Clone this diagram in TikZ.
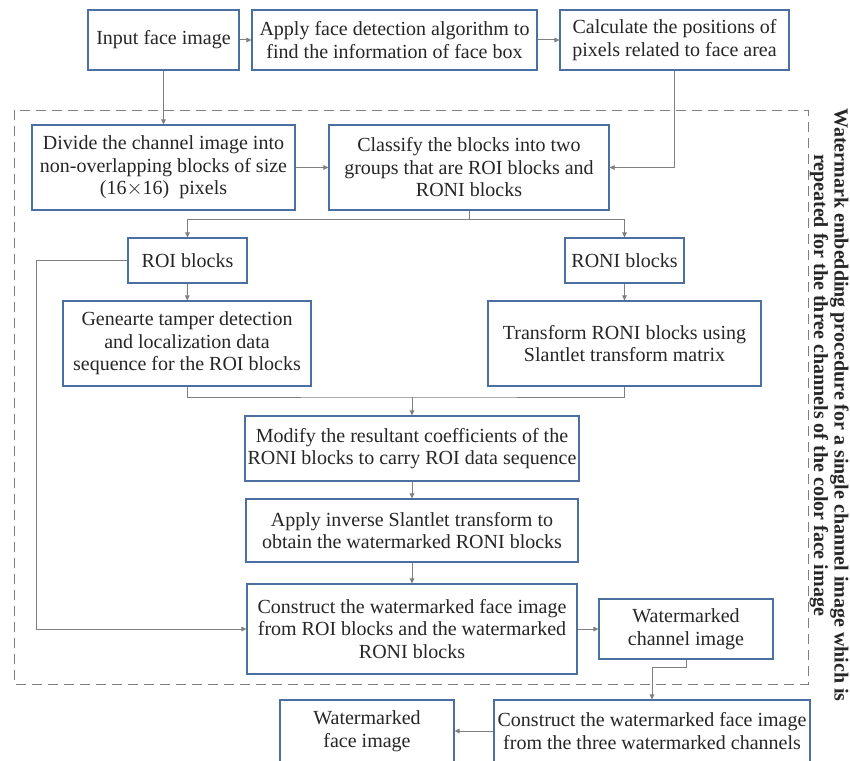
\documentclass[tikz,border=0pt]{standalone}
\usepackage{fontspec}
\setmainfont{Liberation Serif}
\usetikzlibrary{positioning,arrows.meta}

\definecolor{boxblue}{HTML}{4A6FA0}
\definecolor{linegray}{HTML}{7F7F7F}
\definecolor{txt}{HTML}{262626}

\tikzset{
  stepbox/.style={draw=boxblue, line width=1.1pt, fill=white, text=txt, align=center,
    inner sep=2pt, font=\fontsize{20}{22.5}\selectfont},
  sidetext/.style={rotate=-90, text=txt, inner sep=0pt, font=\bfseries\fontsize{20}{21}\selectfont},
  arr/.style={draw=linegray, line width=1pt, -{Triangle[length=5pt,width=4.5pt]}},
  link/.style={draw=linegray, line width=1pt}
}

\begin{document}
\begin{tikzpicture}[x=1pt,y=1pt,yscale=-1,xscale=1]
\useasboundingbox (0,0) rectangle (850,760);

% Repeated-channel frame
\draw [linegray, line width=1pt, dash pattern=on 10pt off 6pt] (14,110) rectangle (808,684);
\node [sidetext] (framelabel) at (839.5,405) {Watermark embedding procedure for a single channel image which is};
\node [sidetext] (framelabelb) at (819,385) {repeated for the three channels of the color face image};

% Top row
\node [stepbox, minimum width=151pt, minimum height=60pt] (input) at (163.5,40) {Input face image};
\node [stepbox, minimum width=285pt, minimum height=60pt] (detect) at (394.5,40) {Apply face detection algorithm to\\ find the information of face box};
\node [stepbox, minimum width=229pt, minimum height=60pt] (calc) at (674.5,40) {Calculate the positions of\\ pixels related to face area};

% Blocks
\node [stepbox, minimum width=263pt, minimum height=85pt] (divide) at (163.5,167.5) {Divide the channel image into\\ non-overlapping blocks of size\\ (16$\times$16)\ \ pixels};
\node [stepbox, minimum width=280pt, minimum height=85pt] (classify) at (469,167.5) {Classify the blocks into two\\ groups that are ROI blocks and\\ RONI blocks};
\node [stepbox, minimum width=119pt, minimum height=45pt] (roi) at (187.5,260.5) {ROI blocks};
\node [stepbox, minimum width=119pt, minimum height=45pt] (roni) at (624.5,260.5) {RONI blocks};
\node [stepbox, minimum width=248pt, minimum height=85pt] (gen) at (187,343.5) {Genearte tamper detection\\ and localization data\\ sequence for the ROI blocks};
\node [stepbox, minimum width=273pt, minimum height=85pt] (trans) at (624.5,343.5) {Transform RONI blocks using\\ Slantlet transform matrix};

% Embedding
\node [stepbox, minimum width=334pt, minimum height=65pt] (modify) at (412,448.5) {Modify the resultant coefficients of the\\ RONI blocks to carry ROI data sequence};
\node [stepbox, minimum width=332pt, minimum height=63pt] (inverse) at (412,530.5) {Apply inverse Slantlet transform to\\ obtain the watermarked RONI blocks};
\node [stepbox, minimum width=330pt, minimum height=90pt] (construct) at (412,629) {Construct the watermarked face image\\ from ROI blocks and the watermarked\\ RONI blocks};
\node [stepbox, minimum width=174pt, minimum height=60pt] (channel) at (686,629) {Watermarked\\ channel image};

% Output
\node [stepbox, minimum width=316pt, minimum height=62pt] (final) at (652,731) {Construct the watermarked face image\\ from the three watermarked channels};
\node [stepbox, minimum width=174pt, minimum height=62pt] (wface) at (367,731) {Watermarked\\ face image};

\coordinate (join) at (412,397);
\coordinate (bypass) at (36,0);

% Connectors
\draw [arr] (input) -- (detect);
\draw [arr] (detect) -- (calc);
\draw [arr] (input) -- (divide);
\draw [arr] (divide) -- (classify);
\draw [arr] (calc.south) |- (classify.east);
\draw [arr] (classify.south) -- ++(0,9) -| (roi.north);
\draw [arr] (classify.south) -- ++(0,9) -| (roni.north);
\draw [arr] (roi) -- (gen);
\draw [arr] (roni) -- (trans);
\draw [link] (gen.south) |- (join) -| (trans.south);
\draw [arr] (join) -- (modify.north);
\draw [arr] (modify) -- (inverse);
\draw [arr] (inverse) -- (construct);
\draw [arr] (roi.west) -- (roi.west -| bypass) |- (construct.west);
\draw [arr] (construct) -- (channel);
\draw [arr] (channel.south) -- ++(0,8) -| (final.north);
\draw [arr] (final) -- (wface);

\end{tikzpicture}
\end{document}
